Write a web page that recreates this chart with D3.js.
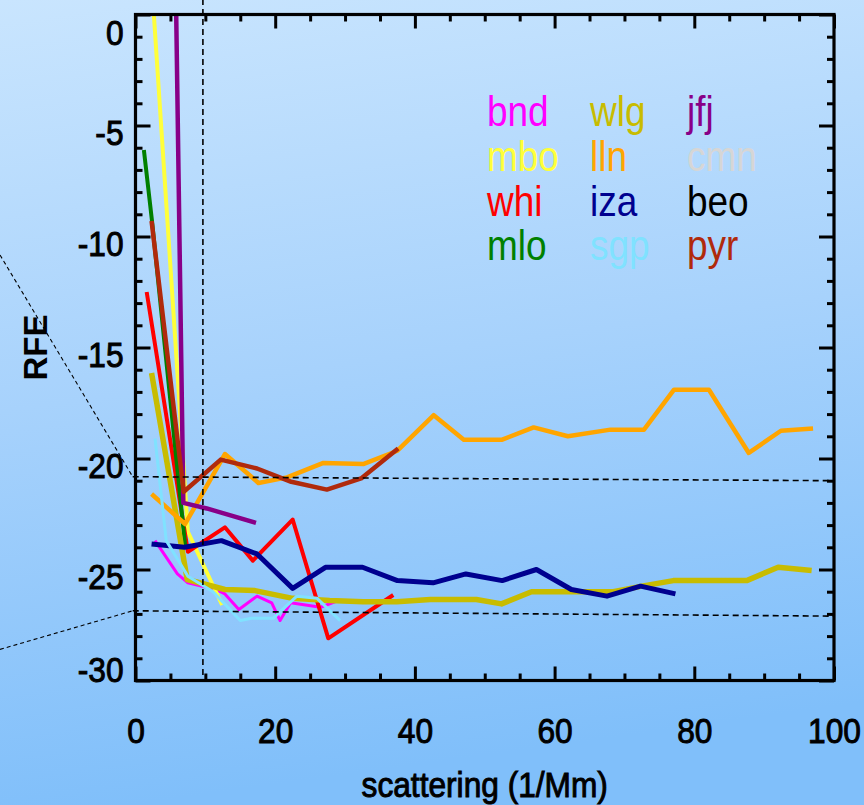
<!DOCTYPE html>
<html>
<head>
<meta charset="utf-8">
<script src="https://cdn.jsdelivr.net/npm/d3@7"></script>
<style>
  html, body { margin: 0; padding: 0; }
  svg { display: block; }
</style>
</head>
<body>
<svg id="chart" width="864" height="805"></svg>
<script>
// ---- station curves: median scattering (1/Mm) vs radiative forcing efficiency ----
const bndScat = [2.8, 6.0, 7.5, 11.5, 12.8, 14.8, 17.4, 19.5, 20.7, 22.2, 26.5, 29.0];
const bndRfe  = [-23.7, -25.2, -25.6, -25.9, -26.1, -26.8, -26.2, -26.5, -27.3, -26.5, -26.7, -26.4];

const mboScat = [2.5, 7.5, 12.4];
const mboRfe  = [0.6, -23.3, -26.6];

const whiScat = [1.6, 7.5, 12.8, 16.8, 22.5, 27.6, 36.9];
const whiRfe  = [-12.5, -24.2, -23.1, -24.6, -22.75, -28.1, -26.15];

const mloScat = [1.2, 2.4, 7.1];
const mloRfe  = [-6.1, -9.4, -23.9];

const wlgScat = [2.3, 7.4, 12.8, 17.1, 22.5, 27.8, 32.6, 37.4, 42.2, 48.8, 52.4, 56.7, 62.5, 68.4, 72.5, 77.0, 82.5, 87.5, 92.0, 96.8];
const wlgRfe  = [-16.15, -25.45, -25.9, -25.95, -26.3, -26.4, -26.45, -26.45, -26.35, -26.35, -26.55, -26.0, -26.0, -26.0, -25.75, -25.5, -25.5, -25.5, -24.9, -25.05];

const llnScat = [2.3, 7.1, 12.8, 17.6, 21.7, 26.9, 32.6, 37.5, 42.7, 47.0, 52.5, 57.0, 61.9, 68.0, 72.8, 77.1, 82.1, 87.8, 92.4, 97.0];
const llnRfe  = [-21.6, -22.95, -19.8, -21.1, -20.85, -20.2, -20.25, -19.65, -18.05, -19.15, -19.15, -18.6, -19.0, -18.7, -18.7, -16.9, -16.9, -19.75, -18.75, -18.65];

const izaScat = [2.3, 7.0, 12.3, 17.4, 22.5, 27.2, 32.5, 37.5, 42.6, 47.3, 52.5, 57.4, 62.4, 67.5, 72.3, 77.3];
const izaRfe  = [-23.85, -24.0, -23.7, -24.3, -25.85, -24.9, -24.9, -25.5, -25.6, -25.2, -25.5, -25.0, -25.9, -26.2, -25.75, -26.1];

const sgpScat = [2.8, 4.4, 7.5, 11.1, 15.0, 16.6, 19.7, 23.1, 26.0, 29.3];
const sgpRfe  = [-19.1, -23.7, -25.3, -26.0, -27.3, -27.2, -27.2, -26.2, -26.3, -27.3];

const jfjScat = [5.8, 6.85, 10.2, 17.25];
const jfjRfe  = [0.6, -22.0, -22.25, -22.9];

const pyrScat = [2.3, 6.9, 12.2, 17.4, 22.3, 27.4, 32.3, 37.6];
const pyrRfe  = [-9.3, -21.5, -20.05, -20.45, -21.05, -21.4, -20.9, -19.55];

// cmn and beo appear in the key only
const cmnScat = [];
const cmnRfe  = [];
const beoScat = [];
const beoRfe  = [];

// key layout, row by row
const legendRows = [
  ["bnd", "wlg", "jfj"],
  ["mbo", "lln", "cmn"],
  ["whi", "iza", "beo"],
  ["mlo", "sgp", "pyr"]
];

// axis ticks
const xMajorTicks = [0, 20, 40, 60, 80, 100];
const xMinorTicks = [5, 10, 15, 25, 30, 35, 45, 50, 55, 65, 70, 75, 85, 90, 95];
const yMajorTicks = [0, -5, -10, -15, -20, -25, -30];
const yMinorTicks = [-1,-2,-3,-4,-6,-7,-8,-9,-11,-12,-13,-14,-16,-17,-18,-19,-21,-22,-23,-24,-26,-27,-28,-29];

// reference guides (scattering, RFE end points)
const guideVertical  = [[9.65, 0.7], [9.65, -30]];
const guideUpper     = [[-0.4, -20.82], [100, -21.0]];
const guideLower     = [[-0.4, -26.86], [100, -27.1]];
const connectorUpper = [[-19.4, -10.83], [-0.4, -20.82]];
const connectorLower = [[-19.4, -28.6], [-0.4, -26.86]];

// ---------------------------------------------------------------
const W = 864, H = 805;
const svg = d3.select("#chart");

const x = d3.scaleLinear().domain([0, 100]).range([135.5, 834]);
const y = d3.scaleLinear().domain([-30, 0]).range([680.5, 14.5]);

const FONT = "'Liberation Sans', Arial, Helvetica, sans-serif";
const SQUEEZE = 0.88;

// background
const defs = svg.append("defs");
const grad = defs.append("linearGradient").attr("id", "bg")
  .attr("x1", "0").attr("y1", "0").attr("x2", "0.15").attr("y2", "1");
grad.append("stop").attr("offset", "0").attr("stop-color", "#c9e5fe");
grad.append("stop").attr("offset", "0.5").attr("stop-color", "#a7d2fc");
grad.append("stop").attr("offset", "1").attr("stop-color", "#80bffa");
svg.append("rect").attr("width", W).attr("height", H).attr("fill", "url(#bg)");

defs.append("clipPath").attr("id", "plotClip").append("rect")
  .attr("x", x(0)).attr("y", y(0))
  .attr("width", x(100) - x(0)).attr("height", y(-30) - y(0));

// station table
const series = [
  { name: "bnd", color: "#ff00ff", xs: bndScat, ys: bndRfe, width: 3 },
  { name: "mbo", color: "#ffff3a", xs: mboScat, ys: mboRfe, width: 4 },
  { name: "whi", color: "#ff0000", xs: whiScat, ys: whiRfe, width: 4 },
  { name: "mlo", color: "#008000", xs: mloScat, ys: mloRfe, width: 4 },
  { name: "wlg", color: "#c8bc00", xs: wlgScat, ys: wlgRfe, width: 5.5 },
  { name: "lln", color: "#ffa500", xs: llnScat, ys: llnRfe, width: 4.5 },
  { name: "iza", color: "#00008f", xs: izaScat, ys: izaRfe, width: 5 },
  { name: "sgp", color: "#80e2ff", xs: sgpScat, ys: sgpRfe, width: 3 },
  { name: "jfj", color: "#880088", xs: jfjScat, ys: jfjRfe, width: 4.5 },
  { name: "cmn", color: "#d6d6d6", xs: cmnScat, ys: cmnRfe, width: 4 },
  { name: "beo", color: "#000000", xs: beoScat, ys: beoRfe, width: 4 },
  { name: "pyr", color: "#b02a0c", xs: pyrScat, ys: pyrRfe, width: 4.5 }
];
const colorOf = Object.fromEntries(series.map(s => [s.name, s.color]));

const line = d3.line().x(d => x(d[0])).y(d => y(d[1]));

// curves
const curves = svg.append("g").attr("clip-path", "url(#plotClip)");
series.filter(s => s.xs.length).forEach(s => {
  curves.append("path")
    .datum(d3.zip(s.xs, s.ys))
    .attr("d", line)
    .attr("fill", "none")
    .attr("stroke", s.color)
    .attr("stroke-width", s.width)
    .attr("stroke-linejoin", "round");
});

// dashed guides
const guides = svg.append("g").attr("fill", "none").attr("stroke", "#000");
[guideVertical, guideUpper, guideLower].forEach(g => {
  guides.append("path").datum(g).attr("d", line)
    .attr("stroke-width", 1.6).attr("stroke-dasharray", "6,4");
});
[connectorUpper, connectorLower].forEach(g => {
  guides.append("path").datum(g).attr("d", line)
    .attr("stroke-width", 1.1).attr("stroke-dasharray", "4,3");
});

// axes: ticks point inward on all four sides
function styleAxis(g) {
  g.select(".domain").remove();
  g.selectAll(".tick line").attr("stroke", "#000").attr("stroke-width", 3);
}
const axes = svg.append("g");

axes.append("g").attr("transform", `translate(0,${y(-30)})`)
  .call(d3.axisBottom(x).tickValues(xMajorTicks).tickSize(-14).tickFormat(d => String(d)))
  .call(styleAxis)
  .call(g => g.selectAll(".tick text")
    .attr("y", 0).attr("dy", 0)
    .attr("transform", `translate(0,62) scale(${SQUEEZE},1)`)
    .attr("font-family", FONT).attr("font-size", 36)
    .attr("fill", "#000").attr("stroke", "#000").attr("stroke-width", 1));
axes.append("g").attr("transform", `translate(0,${y(-30)})`)
  .call(d3.axisBottom(x).tickValues(xMinorTicks).tickSize(-7).tickFormat(""))
  .call(styleAxis);
axes.append("g").attr("transform", `translate(0,${y(0)})`)
  .call(d3.axisTop(x).tickValues(xMajorTicks).tickSize(-14).tickFormat(""))
  .call(styleAxis);
axes.append("g").attr("transform", `translate(0,${y(0)})`)
  .call(d3.axisTop(x).tickValues(xMinorTicks).tickSize(-7).tickFormat(""))
  .call(styleAxis);

axes.append("g").attr("transform", `translate(${x(0)},0)`)
  .call(d3.axisLeft(y).tickValues(yMajorTicks).tickSize(-15).tickFormat(d => String(d)))
  .call(styleAxis)
  .call(g => g.selectAll(".tick text").each(function (d) {
    // keep end labels inside the frame height
    const centre = Math.max(31, Math.min(668, y(d) + 6));
    d3.select(this)
      .attr("x", 0).attr("y", 0).attr("dy", 0)
      .attr("transform", `translate(-12,${centre - y(d) + 13}) scale(${SQUEEZE},1)`)
      .attr("text-anchor", "end")
      .attr("font-family", FONT).attr("font-size", 36)
      .attr("fill", "#000").attr("stroke", "#000").attr("stroke-width", 1);
  }));
axes.append("g").attr("transform", `translate(${x(0)},0)`)
  .call(d3.axisLeft(y).tickValues(yMinorTicks).tickSize(-7).tickFormat(""))
  .call(styleAxis);
axes.append("g").attr("transform", `translate(${x(100)},0)`)
  .call(d3.axisRight(y).tickValues(yMajorTicks).tickSize(-15).tickFormat(""))
  .call(styleAxis);
axes.append("g").attr("transform", `translate(${x(100)},0)`)
  .call(d3.axisRight(y).tickValues(yMinorTicks).tickSize(-7).tickFormat(""))
  .call(styleAxis);

// frame
svg.append("rect")
  .attr("x", x(0)).attr("y", y(0))
  .attr("width", x(100) - x(0)).attr("height", y(-30) - y(0))
  .attr("fill", "none").attr("stroke", "#000").attr("stroke-width", 3.2);

// axis titles
svg.append("text")
  .attr("transform", `translate(${(x(0) + x(100)) / 2},797) scale(${SQUEEZE},1)`)
  .attr("text-anchor", "middle")
  .attr("font-family", FONT).attr("font-size", 36)
  .attr("fill", "#000").attr("stroke", "#000").attr("stroke-width", 1)
  .text("scattering (1/Mm)");

svg.append("text")
  .attr("transform", `translate(47,${(y(0) + y(-30)) / 2}) rotate(-90)`)
  .attr("text-anchor", "middle")
  .attr("font-family", FONT).attr("font-size", 33).attr("font-weight", "bold")
  .attr("fill", "#000")
  .text("RFE");

// key
const colX = [487, 590, 687];
const rowY0 = 126, rowStep = 44.8;
const key = svg.append("g");
legendRows.forEach((row, ri) => {
  row.forEach((name, ci) => {
    key.append("text")
      .attr("transform", `translate(${colX[ci]},${rowY0 + ri * rowStep}) scale(${SQUEEZE},1)`)
      .attr("font-family", FONT).attr("font-size", 42)
      .attr("fill", colorOf[name])
      .text(name);
  });
});
</script>
</body>
</html>
